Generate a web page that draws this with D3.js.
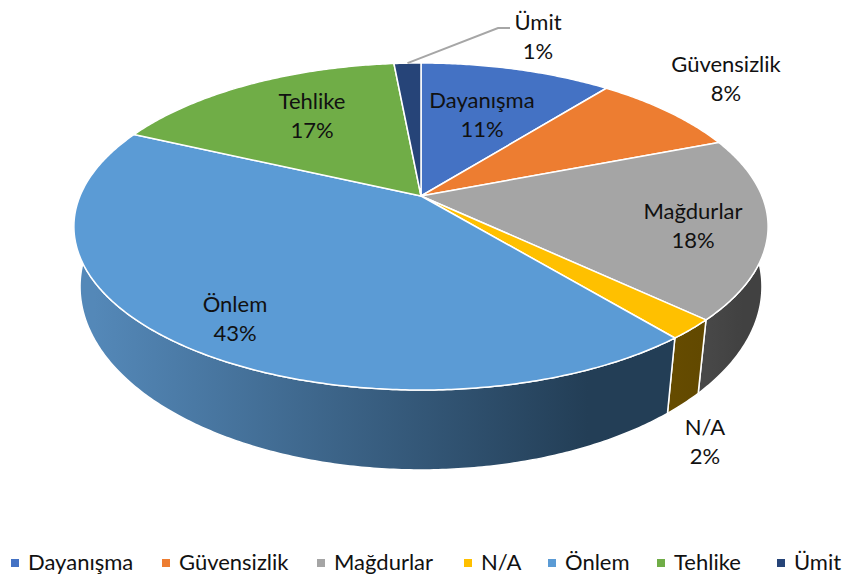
<!DOCTYPE html>
<html>
<head>
<meta charset="utf-8">
<title>Pie</title>
<script src="https://cdn.jsdelivr.net/npm/d3@7/dist/d3.min.js"></script>
<style>
    html, body { margin: 0; padding: 0; background: #fff; }
    svg { display: block; }
    text { font-family: Lato, "Open Sans", sans-serif; font-size: 22px; fill: #111; }
</style>
</head>
<body>
<svg id="svg" width="843" height="579"></svg>
<script>
// chart values
var categories = ["Dayanışma", "Güvensizlik", "Mağdurlar", "N/A", "Önlem", "Tehlike", "Ümit"];
var values = [10.7, 8.4, 17.9, 2.0, 42.9, 16.6, 1.5];
var percentLabels = ["11%", "8%", "18%", "2%", "43%", "17%", "1%"];
var topColors = ["#4472c4", "#ed7d31", "#a5a5a5", "#ffc000", "#5b9bd5", "#70ad47", "#264478"];
var wallLight = ["#2f4a80", "#a0521c", "#484848", "#654b00", "#5488b8", "#4a7330", "#1a2d50"];
var wallDark = ["#2f4a80", "#a0521c", "#414141", "#624900", "#233e56", "#4a7330", "#1a2d50"];

// where each label sits
var labelX = [482, 726, 693, 705, 235, 312, 538];
var labelY = [101, 65, 212, 428, 305, 102, 23];
var legendX = [11, 162, 317, 464, 548, 657, 777];

var svg = d3.select("#svg");

// perspective projection of the pie rim
var cx = 421;
function project(a, k, rx, ry, y0) {
    var den = 1 + k * Math.cos(a);
    return [cx + rx * Math.sin(a) / den, y0 - ry * Math.cos(a) / den];
}
function topRim(a) { return project(a, 0.1866, 341, 157.8, 196); }
function botRim(a) { return project(a, 0.17, 336, 178, 255.5); }

function arcPts(fn, a0, a1) {
    var n = Math.max(2, Math.ceil(Math.abs(a1 - a0) / 0.01));
    return d3.range(n + 1).map(function(i) { return fn(a0 + (a1 - a0) * i / n); });
}

var pie = d3.pie().sort(null).value(function(d) { return d; });
var slices = pie(values);
var line = d3.line();

var defs = svg.append("defs");
slices.forEach(function(s, i) {
    var p0 = topRim(Math.max(s.startAngle, Math.PI / 2.2));
    var p1 = topRim(Math.min(s.endAngle, Math.PI * 1.55));
    var grad = defs.append("linearGradient")
        .attr("id", "wall" + i)
        .attr("gradientUnits", "userSpaceOnUse")
        .attr("x1", Math.min(p0[0], p1[0])).attr("x2", Math.max(p0[0], p1[0]))
        .attr("y1", 0).attr("y2", 0);
    grad.append("stop").attr("offset", 0).attr("stop-color", wallLight[i]);
    grad.append("stop").attr("offset", 0.85).attr("stop-color", wallDark[i]);
});

// side walls first, the top faces cover the hidden ones
svg.append("g").selectAll("path").data(slices).enter().append("path")
    .attr("d", function(s) {
        var pts = arcPts(topRim, s.startAngle, s.endAngle)
            .concat(arcPts(botRim, s.endAngle, s.startAngle));
        return line(pts) + "Z";
    })
    .attr("fill", function(s, i) { return "url(#wall" + i + ")"; })
    .attr("stroke", "#fff")
    .attr("stroke-width", 1.5)
    .attr("stroke-linejoin", "round");

// top faces
svg.append("g").selectAll("path").data(slices).enter().append("path")
    .attr("d", function(s) {
        return line([[cx, 196]].concat(arcPts(topRim, s.startAngle, s.endAngle))) + "Z";
    })
    .attr("fill", function(s, i) { return topColors[i]; })
    .attr("stroke", "#fff")
    .attr("stroke-width", 1.5)
    .attr("stroke-linejoin", "round");

// leader line for the small slice
var umit = slices[6];
var leaderStart = topRim((umit.startAngle + umit.endAngle) / 2);
svg.append("path")
    .attr("d", line([leaderStart, [498, 28], [510, 28]]))
    .attr("fill", "none")
    .attr("stroke", "#a6a6a6")
    .attr("stroke-width", 2);

// data labels
var labels = svg.append("g").selectAll("text").data(categories).enter().append("text")
    .attr("text-anchor", "middle")
    .attr("x", function(d, i) { return labelX[i]; })
    .attr("y", function(d, i) { return labelY[i] + 7; });
labels.append("tspan").text(function(d) { return d; });
labels.append("tspan")
    .attr("x", function(d, i) { return labelX[i]; })
    .attr("dy", 29)
    .text(function(d, i) { return percentLabels[i]; });

// legend
var legend = svg.append("g").selectAll("g").data(categories).enter().append("g")
    .attr("transform", function(d, i) { return "translate(" + legendX[i] + ",0)"; });
legend.append("rect")
    .attr("y", 559).attr("width", 8).attr("height", 8)
    .attr("fill", function(d, i) { return topColors[i]; });
legend.append("text")
    .attr("x", 17).attr("y", 570)
    .text(function(d) { return d; });
</script>
</body>
</html>
